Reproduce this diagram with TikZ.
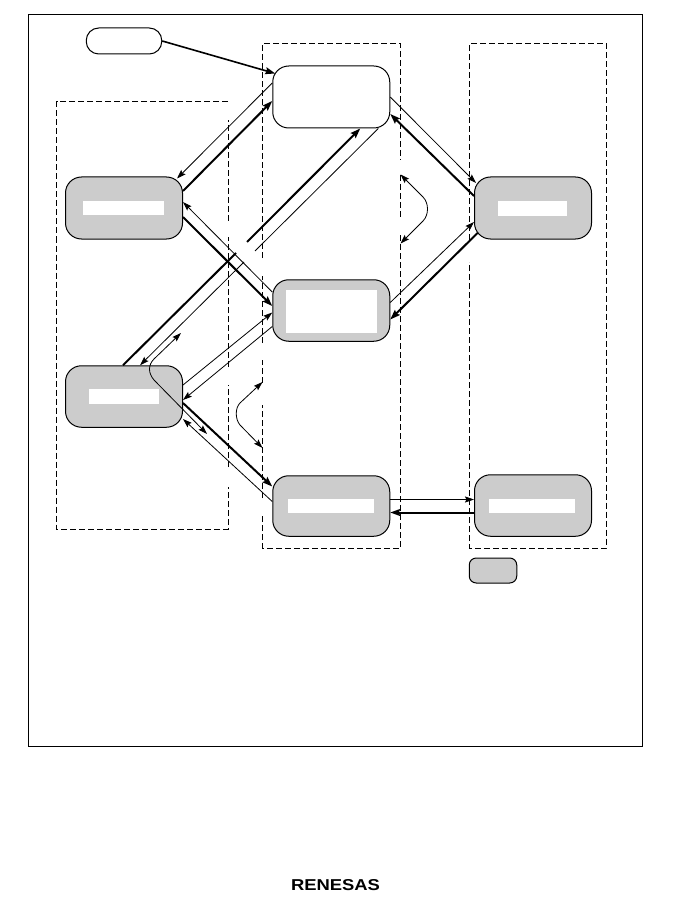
\documentclass[tikz,border=0pt]{standalone}
\usepackage{graphicx}
\usepackage{fontspec}
\setmainfont{Liberation Sans}
\usetikzlibrary{arrows.meta,calc}
\definecolor{boxgray}{HTML}{CCCCCC}
\tikzset{
  statebox/.style={draw=black,line width=1pt,fill=boxgray,rounded corners=16pt,inner sep=0pt,minimum width=117pt,minimum height=61.5pt},
  whitebox/.style={draw=none,fill=white,inner sep=0pt},
  linkthin/.style={line width=0.8pt,-{Stealth[length=9pt,width=6pt,inset=1.5pt]}},
  linkthick/.style={line width=2pt,-{Stealth[length=10pt,width=7pt,inset=1.5pt]}},
  plainthin/.style={line width=0.8pt},
  plainthick/.style={line width=2pt},
  bothway/.style={line width=0.8pt,{Stealth[length=9pt,width=6pt,inset=1.5pt]}-{Stealth[length=9pt,width=6pt,inset=1.5pt]}},
  areaedge/.style={line width=1pt,dash pattern=on 6pt off 3pt},
}
\begin{document}
\begin{tikzpicture}[x=1pt,y=-1pt]
\useasboundingbox (0,0) rectangle (679,901);
\fill[white] (0,0) rectangle (679,901);
% frame
\draw[line width=1pt] (28.5,14.5) rectangle (642,746);
% dashed areas
\draw[areaedge] (228,102) -- (56.5,102) -- (56.5,529) -- (228,529) -- (228,487);
\draw[areaedge] (228,467) -- (228,385);
\draw[areaedge] (228,367) -- (228,237);
\draw[areaedge] (228,221) -- (228,120);
\draw[areaedge] (262.5,258) -- (262.5,43.5) -- (400.5,43.5) -- (400.5,160);
\draw[areaedge] (400.5,175) -- (400.5,218);
\draw[areaedge] (400.5,235) -- (400.5,548) -- (262.5,548) -- (262.5,515);
\draw[areaedge] (262.5,498) -- (262.5,405);
\draw[areaedge] (262.5,383) -- (262.5,360);
\draw[areaedge] (262.5,343) -- (262.5,276);
\draw[areaedge] (469.5,240) -- (469.5,43.5) -- (606,43.5) -- (606,548) -- (469.5,548) -- (469.5,262);
% nodes
\node[draw=black,line width=1pt,fill=white,rounded corners=12.5pt,inner sep=0pt,minimum width=75.5pt,minimum height=26pt] (pill) at (124,41) {};
\node[statebox,fill=white,minimum height=62pt] (T) at (331.25,97) {};
\node[statebox,minimum height=62pt] (LT) at (124,208) {};
\node[statebox] (M) at (331.25,310.5) {};
\node[statebox] (LB) at (124,396.5) {};
\node[statebox,minimum height=60.5pt] (B) at (331.25,506) {};
\node[statebox,minimum height=62pt] (RT) at (533,208) {};
\node[statebox] (RB) at (533,505.5) {};
\node[statebox,rounded corners=7pt,minimum width=47.5pt,minimum height=25pt] (key) at (493,570.5) {};
% white inner panels
\node[whitebox,minimum width=81pt,minimum height=14.5pt] (ltw) at (123.5,208) {};
\node[whitebox,minimum width=91pt,minimum height=43pt] (mw) at (331.5,311.5) {};
\node[whitebox,minimum width=70pt,minimum height=15pt] (lbw) at (124,396.5) {};
\node[whitebox,minimum width=86pt,minimum height=14pt] (bw) at (331,506) {};
\node[whitebox,minimum width=69pt,minimum height=15pt] (rtw) at (532.5,208.5) {};
\node[whitebox,minimum width=86pt,minimum height=14pt] (rbw) at (532,506) {};
% coordinates of interruptions
\coordinate (tkA) at (236,253);
\coordinate (tkB) at (247,242);
\coordinate (tnA) at (244,262);
\coordinate (tnB) at (255,251);
% connectors
\draw[linkthick,line width=1.6pt] (pill.east) -- ($(T.north west)+(3,8)$);
\draw[linkthin] ($(T.west)+(0,-14)$) -- ($(LT.north east)+(-6,2)$);
\draw[linkthick] ($(LT.east)+(0,-17)$) -- ($(T.west)+(0,4)$);
\draw[linkthin] ($(M.west)+(0,-18.5)$) -- ($(LT.east)+(0,-6)$);
\draw[linkthick] ($(LT.east)+(0,9)$) -- ($(M.west)+(0,-4.5)$);
\draw[plainthick] ($(LB.north)+(-1,0)$) -- (tkA);
\draw[linkthick] (tkB) -- ($(T.south)+(29,0)$);
\draw[plainthin] ($(T.south)+(47,0)$) -- (tnB);
\draw[linkthin] (tnA) -- ($(LB.north)+(16,0)$);
\draw[linkthin] ($(LB.east)+(0,-11.5)$) -- ($(M.west)+(0,2)$);
\draw[linkthin] ($(M.west)+(0,16)$) -- ($(LB.east)+(0,3.5)$);
\draw[linkthick] ($(LB.east)+(0,6.5)$) -- ($(B.west)+(0,-19.5)$);
\draw[linkthin] ($(B.west)+(0,-4.5)$) -- ($(LB.east)+(0,22.5)$);
\draw[linkthin] (T.east) -- ($(RT.west)+(2,-25)$);
\draw[linkthick] ($(RT.west)+(0,-12)$) -- ($(T.east)+(0,17)$);
\draw[linkthin] ($(M.east)+(0,-8)$) -- ($(RT.west)+(0,14)$);
\draw[linkthick] ($(RT.west)+(3.5,25)$) -- ($(M.east)+(0,9)$);
\draw[linkthin] ($(B.east)+(0,-6.5)$) -- ($(RB.west)+(0,-6)$);
\draw[linkthick] ($(RB.west)+(0,7)$) -- ($(B.east)+(0,6.5)$);
% curved double arrows
\coordinate (cAa) at (181,333);
\coordinate (cAb) at (207,434);
\coordinate (cBa) at (262.5,382);
\coordinate (cBb) at (262.5,448);
\coordinate (cCa) at (400.5,174.5);
\coordinate (cCb) at (400.5,243.5);
\draw[bothway] (cAa) -- (154,359) .. controls (148,365) and (148,373) .. (154,380) -- (cAb);
\draw[bothway] (cBa) -- (240,403) .. controls (235,408) and (235,419) .. (240,425) -- (cBb);
\draw[bothway] (cCa) -- (423,197) .. controls (429,203) and (429,215) .. (423,221) -- (cCb);
% logo
\node[inner sep=0pt] (logo) at (335.5,885.5) {\resizebox{89pt}{11pt}{\bfseries RENESAS}};
\end{tikzpicture}
\end{document}
